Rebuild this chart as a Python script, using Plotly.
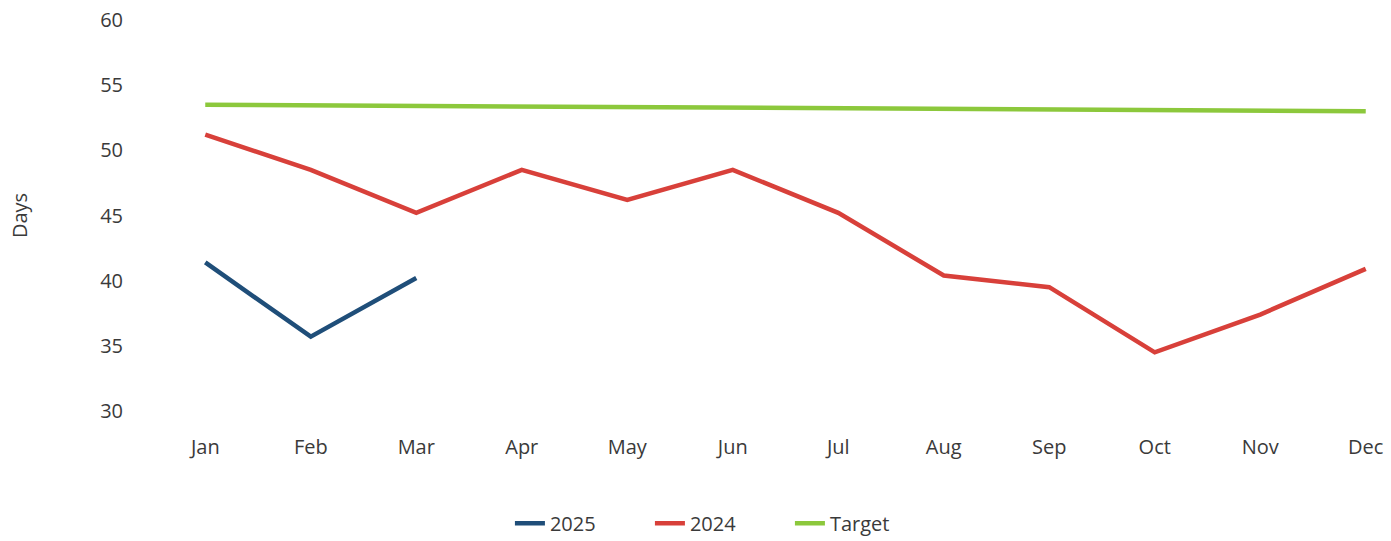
import plotly.graph_objects as go

months = ["Jan", "Feb", "Mar", "Apr", "May", "Jun", "Jul", "Aug", "Sep", "Oct", "Nov", "Dec"]
days_2025 = [41.4, 35.7, 40.2]
days_2024 = [51.2, 48.5, 45.2, 48.5, 46.2, 48.5, 45.2, 40.4, 39.5, 34.5, 37.4, 40.9]
target = [53.5, 53.45, 53.4, 53.35, 53.3, 53.3, 53.25, 53.2, 53.15, 53.1, 53.05, 53.0]
y_ticks = [30, 35, 40, 45, 50, 55, 60]

font_family = "Open Sans, Liberation Sans, sans-serif"
text_color = "#3a3a3a"

fig = go.Figure()
fig.add_trace(go.Scatter(x=months[:len(days_2025)], y=days_2025, mode="lines", name="2025",
                         line=dict(color="#1f4e79", width=4.5)))
fig.add_trace(go.Scatter(x=months, y=days_2024, mode="lines", name="2024",
                         line=dict(color="#d8403a", width=4.5)))
fig.add_trace(go.Scatter(x=months, y=target, mode="lines", name="Target",
                         line=dict(color="#8cc83c", width=4.5)))

fig.update_layout(
    width=1391, height=541,
    margin=dict(l=200, r=20, t=20, b=130, autoexpand=False),
    paper_bgcolor="white", plot_bgcolor="white",
    font=dict(family=font_family, size=20, color=text_color),
    showlegend=True,
    legend=dict(orientation="h", x=0.444, xanchor="center",
                yref="container", y=0.033, yanchor="middle",
                font=dict(size=20, color=text_color), entrywidth=95, entrywidthmode="pixels",
                traceorder="normal"),
)
fig.update_xaxes(type="category", categoryorder="array", categoryarray=months,
                 range=[-0.05, 11.05], showgrid=False, zeroline=False, showline=False,
                 ticks="", ticklabelstandoff=22, automargin=False, ticklabeloverflow="allow",
                 tickfont=dict(size=20, color=text_color))
fig.update_yaxes(range=[30, 60], tickvals=y_ticks, showgrid=False, zeroline=False,
                 showline=False, ticks="", ticklabelstandoff=76, automargin=False,
                 ticklabeloverflow="allow",
                 tickfont=dict(size=20, color=text_color),
                 title=dict(text="Days", font=dict(size=20, color=text_color), standoff=67))

fig.write_html("out.html", config={"displayModeBar": False},
               post_script="document.body.style.margin='0';")
